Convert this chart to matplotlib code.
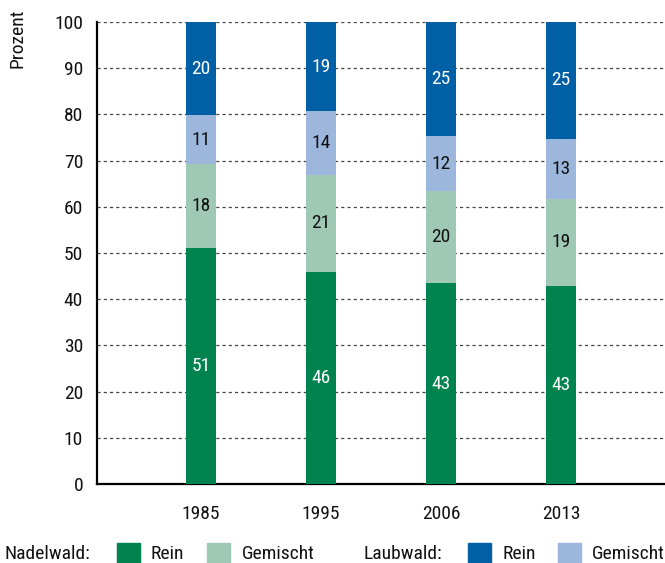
import matplotlib
matplotlib.use("Agg")
import matplotlib.pyplot as plt
from matplotlib import font_manager
from matplotlib.patches import Rectangle
import numpy as np

# data (segment heights in percent)
years = ["1985", "1995", "2006", "2013"]
nadel_rein = [51.1, 45.9, 43.5, 42.9]
nadel_gemischt = [18.2, 21.0, 19.9, 18.8]
laub_gemischt = [10.5, 13.8, 11.9, 13.0]
laub_rein = [20.2, 19.3, 24.7, 25.3]
# printed labels
lbl_nadel_rein = ["51", "46", "43", "43"]
lbl_nadel_gemischt = ["18", "21", "20", "19"]
lbl_laub_gemischt = ["11", "14", "12", "13"]
lbl_laub_rein = ["20", "19", "25", "25"]

c_nr = "#00834e"
c_ng = "#9fc9b4"
c_lr = "#0060a6"
c_lg = "#9db7dc"

names = {f.name for f in font_manager.fontManager.ttflist}
fam = "DejaVu Sans"
for cand in ["Roboto Condensed", "Archivo Narrow", "Barlow Semi Condensed", "Asap Condensed"]:
    if cand in names:
        fam = cand
        break
plt.rcParams["font.family"] = [fam, "DejaVu Sans"]
fs = 14
tc = "#111111"

fig = plt.figure(figsize=(6.65, 5.63), dpi=100)
ax = fig.add_axes([97 / 665, 79 / 563, 568 / 665, 462 / 563])

x = np.arange(len(years))
w = 0.25
segs = [(nadel_rein, lbl_nadel_rein, c_nr, "white"),
        (nadel_gemischt, lbl_nadel_gemischt, c_ng, tc),
        (laub_gemischt, lbl_laub_gemischt, c_lg, tc),
        (laub_rein, lbl_laub_rein, c_lr, "white")]
bottom = np.zeros(len(years))
for vals, labs, col, tcol in segs:
    vals = np.array(vals)
    ax.bar(x, vals, w, bottom=bottom, color=col, zorder=3)
    for xi, b, v, l in zip(x, bottom, vals, labs):
        ax.text(xi, b + v / 2, l, ha="center", va="center", color=tcol,
                fontsize=fs, zorder=4)
    bottom = bottom + vals

ax.set_xlim(-0.867, 3.867)
ax.set_ylim(0, 100)
ax.set_yticks(np.arange(0, 101, 10))
ax.set_xticks(x)
ax.set_xticklabels(years)
ax.tick_params(axis="both", length=0, labelsize=fs, colors=tc)
ax.tick_params(axis="y", pad=10)
ax.tick_params(axis="x", pad=15)
ax.yaxis.grid(True, linestyle=(0, (2.5, 2.5)), color="#444444", linewidth=0.9, zorder=0)
for s in ["top", "right"]:
    ax.spines[s].set_visible(False)
for s in ["left", "bottom"]:
    ax.spines[s].set_linewidth(1.6)
ax.set_axisbelow(True)

fig.text(18 / 665, 1 - 8 / 563, "Prozent", rotation=90, ha="center", va="top",
         fontsize=fs, color=tc)

# legend row
ly = 1 - 554 / 563
def sq(x0, col):
    fig.patches.append(Rectangle((x0 / 665, 1 - 564 / 563), 23 / 665, 21 / 563,
                                 transform=fig.transFigure, color=col, clip_on=False))
fig.text(4 / 665, ly, "Nadelwald:", va="center", fontsize=fs, color=tc)
sq(117, c_nr)
fig.text(150 / 665, ly, "Rein", va="center", fontsize=fs, color=tc)
sq(207, c_ng)
fig.text(242 / 665, ly, "Gemischt", va="center", fontsize=fs, color=tc)
fig.text(363 / 665, ly, "Laubwald:", va="center", fontsize=fs, color=tc)
sq(468, c_lr)
fig.text(503 / 665, ly, "Rein", va="center", fontsize=fs, color=tc)
sq(558, c_lg)
fig.text(592 / 665, ly, "Gemischt", va="center", fontsize=fs, color=tc)

fig.savefig("out.png", dpi=100)
